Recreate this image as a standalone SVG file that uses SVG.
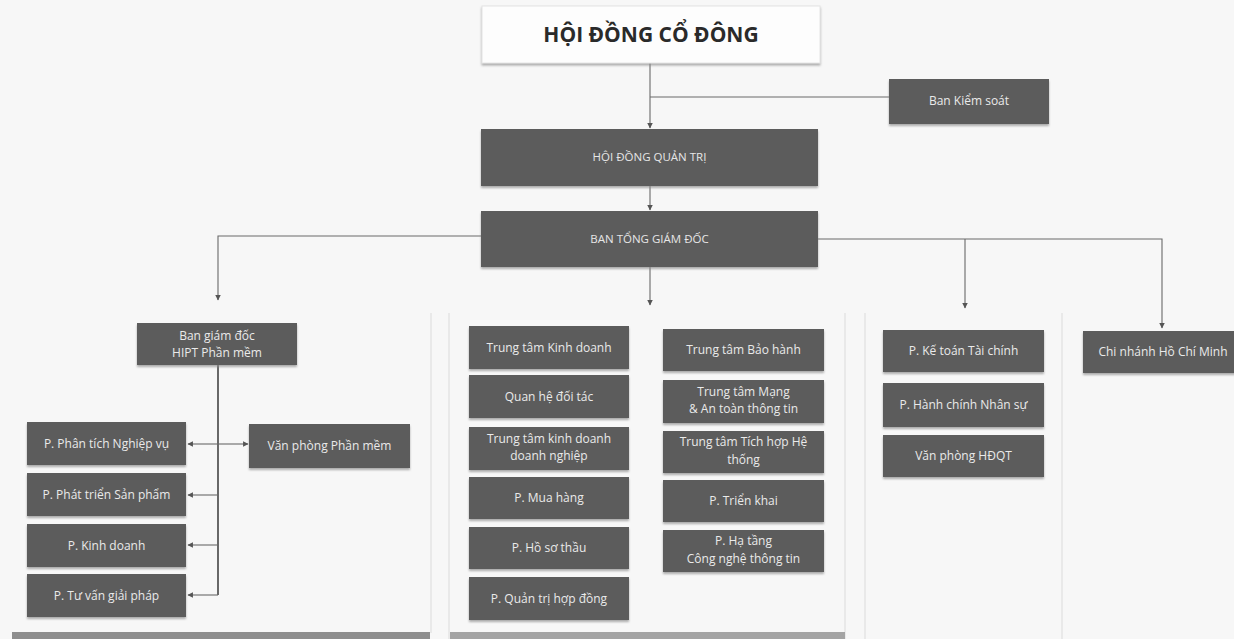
<svg xmlns="http://www.w3.org/2000/svg" width="1234" height="639" viewBox="0 0 1234 639">
<defs>
  <marker id="arr" viewBox="0 0 10 10" refX="9" refY="5" markerWidth="5" markerHeight="5" orient="auto">
    <path d="M0,0 L10,5 L0,10 z" fill="#555555"/>
  </marker>
  <filter id="sh" x="-10%" y="-20%" width="120%" height="150%">
    <feDropShadow dx="0" dy="2" stdDeviation="1.2" flood-color="#8a8a8a" flood-opacity="0.7"/>
  </filter>
</defs>
<style>
  .box{fill:#5c5c5c;filter:url(#sh);}
  .t{font-family:"Open Sans","Liberation Sans",sans-serif;font-size:12px;fill:#eaeaea;text-anchor:middle;}
  .tc{font-family:"Open Sans","Liberation Sans",sans-serif;font-size:11.5px;fill:#e6e6e6;text-anchor:middle;}
  .ln{stroke:#6a6a6a;stroke-width:1.1;fill:none;}
  .pl{stroke:#e0e0e0;stroke-width:1.2;fill:none;}
</style>
<rect x="0" y="0" width="1234" height="639" fill="#f7f7f7"/>

<g id="panels">
  <line class="pl" x1="431" y1="313" x2="431" y2="633"/>
  <line class="pl" x1="449" y1="313" x2="449" y2="639"/>
  <line class="pl" x1="845" y1="313" x2="845" y2="639"/>
  <line class="pl" x1="865" y1="313" x2="865" y2="639"/>
  <line class="pl" x1="1062" y1="313" x2="1062" y2="639"/>
  <rect x="12" y="632" width="418" height="7" fill="#8e8e8e"/>
  <rect x="450" y="632" width="395" height="7" fill="#a4a4a4"/>
</g>

<g id="connectors">
  <path class="ln" d="M650,63 V128" marker-end="url(#arr)"/>
  <path class="ln" d="M650,97 H889"/>
  <path class="ln" d="M650,186 V210" marker-end="url(#arr)"/>
  <path class="ln" d="M481,236 H218 V300" marker-end="url(#arr)"/>
  <path class="ln" d="M818,239 H1162 V328" marker-end="url(#arr)"/>
  <path class="ln" d="M965,239 V308" marker-end="url(#arr)"/>
  <path class="ln" d="M650,267 V305" marker-end="url(#arr)"/>
  <path class="ln" d="M218,365 V595" style="stroke:#444;stroke-width:1.6"/>
  <path class="ln" d="M218,444 H188" marker-end="url(#arr)"/>
  <path class="ln" d="M218,444 H248" marker-end="url(#arr)"/>
  <path class="ln" d="M218,495 H188" marker-end="url(#arr)"/>
  <path class="ln" d="M218,545 H188" marker-end="url(#arr)"/>
  <path class="ln" d="M218,595 H188" marker-end="url(#arr)"/>
</g>

<g id="n-hdcd">
  <rect x="482" y="6" width="338" height="57" fill="#fdfdfd" stroke="#e4e4e4" filter="url(#sh)"/>
  <text x="651" y="42" font-family="'Open Sans','Liberation Sans',sans-serif" font-size="21" font-weight="bold" fill="#2a2a2a" text-anchor="middle">HỘI ĐỒNG CỔ ĐÔNG</text>
</g>
<g id="n-bks">
  <rect class="box" x="889" y="79" width="160" height="45"/>
  <text class="t" x="969" y="105" font-size="10.5">Ban Kiểm soát</text>
</g>
<g id="n-hdqt">
  <rect class="box" x="481" y="129" width="337" height="57"/>
  <text class="tc" x="649.5" y="161">HỘI ĐỒNG QUẢN TRỊ</text>
</g>
<g id="n-btgd">
  <rect class="box" x="481" y="211" width="337" height="56"/>
  <text class="tc" x="649.5" y="243">BAN TỔNG GIÁM ĐỐC</text>
</g>

<g id="n-bgd">
  <rect class="box" x="137" y="323" width="160" height="42"/>
  <text class="t" x="217" y="340">Ban giám đốc</text>
  <text class="t" x="217" y="357">HIPT Phần mềm</text>
</g>
<g id="n-ptnv">
  <rect class="box" x="27" y="422" width="159" height="43"/>
  <text class="t" x="106.5" y="448">P. Phân tích Nghiệp vụ</text>
</g>
<g id="n-vppm">
  <rect class="box" x="249" y="424" width="161" height="44"/>
  <text class="t" x="329.5" y="450">Văn phòng Phần mềm</text>
</g>
<g id="n-ptsp">
  <rect class="box" x="27" y="473" width="159" height="43"/>
  <text class="t" x="106.5" y="499">P. Phát triển Sản phẩm</text>
</g>
<g id="n-pkd">
  <rect class="box" x="27" y="524" width="159" height="43"/>
  <text class="t" x="106.5" y="550">P. Kinh doanh</text>
</g>
<g id="n-ptvgp">
  <rect class="box" x="27" y="574" width="159" height="43"/>
  <text class="t" x="106.5" y="600">P. Tư vấn giải pháp</text>
</g>

<g id="n-ttkd">
  <rect class="box" x="469" y="326" width="160" height="43"/>
  <text class="t" x="549" y="352">Trung tâm Kinh doanh</text>
</g>
<g id="n-qhdt">
  <rect class="box" x="469" y="375" width="160" height="43"/>
  <text class="t" x="549" y="401">Quan hệ đối tác</text>
</g>
<g id="n-ttkddn">
  <rect class="box" x="469" y="427" width="160" height="43"/>
  <text class="t" x="549" y="443">Trung tâm kinh doanh</text>
  <text class="t" x="549" y="460">doanh nghiệp</text>
</g>
<g id="n-pmh">
  <rect class="box" x="469" y="477" width="160" height="42"/>
  <text class="t" x="549" y="502">P. Mua hàng</text>
</g>
<g id="n-phst">
  <rect class="box" x="469" y="527" width="160" height="42"/>
  <text class="t" x="549" y="552">P. Hồ sơ thầu</text>
</g>
<g id="n-pqthd">
  <rect class="box" x="469" y="577" width="160" height="43"/>
  <text class="t" x="549" y="603">P. Quản trị hợp đồng</text>
</g>

<g id="n-ttbh">
  <rect class="box" x="663" y="329" width="161" height="42"/>
  <text class="t" x="743.5" y="354">Trung tâm Bảo hành</text>
</g>
<g id="n-ttm">
  <rect class="box" x="663" y="380" width="161" height="43"/>
  <text class="t" x="743.5" y="396">Trung tâm Mạng</text>
  <text class="t" x="743.5" y="413">&amp; An toàn thông tin</text>
</g>
<g id="n-tth">
  <rect class="box" x="663" y="431" width="161" height="42"/>
  <text class="t" x="743.5" y="446">Trung tâm Tích hợp Hệ</text>
  <text class="t" x="743.5" y="464">thống</text>
</g>
<g id="n-ptk">
  <rect class="box" x="663" y="480" width="161" height="42"/>
  <text class="t" x="743.5" y="505">P. Triển khai</text>
</g>
<g id="n-pht">
  <rect class="box" x="663" y="530" width="161" height="42"/>
  <text class="t" x="743.5" y="545">P. Hạ tầng</text>
  <text class="t" x="743.5" y="563">Công nghệ thông tin</text>
</g>

<g id="n-pkt">
  <rect class="box" x="883" y="330" width="161" height="42"/>
  <text class="t" x="963.5" y="355">P. Kế toán Tài chính</text>
</g>
<g id="n-phc">
  <rect class="box" x="883" y="383" width="161" height="44"/>
  <text class="t" x="963.5" y="409">P. Hành chính Nhân sự</text>
</g>
<g id="n-vphdqt">
  <rect class="box" x="883" y="435" width="161" height="42"/>
  <text class="t" x="963.5" y="460">Văn phòng HĐQT</text>
</g>
<g id="n-cn">
  <rect class="box" x="1083" y="331" width="160" height="42"/>
  <text class="t" x="1163" y="356">Chi nhánh Hồ Chí Minh</text>
</g>
</svg>
